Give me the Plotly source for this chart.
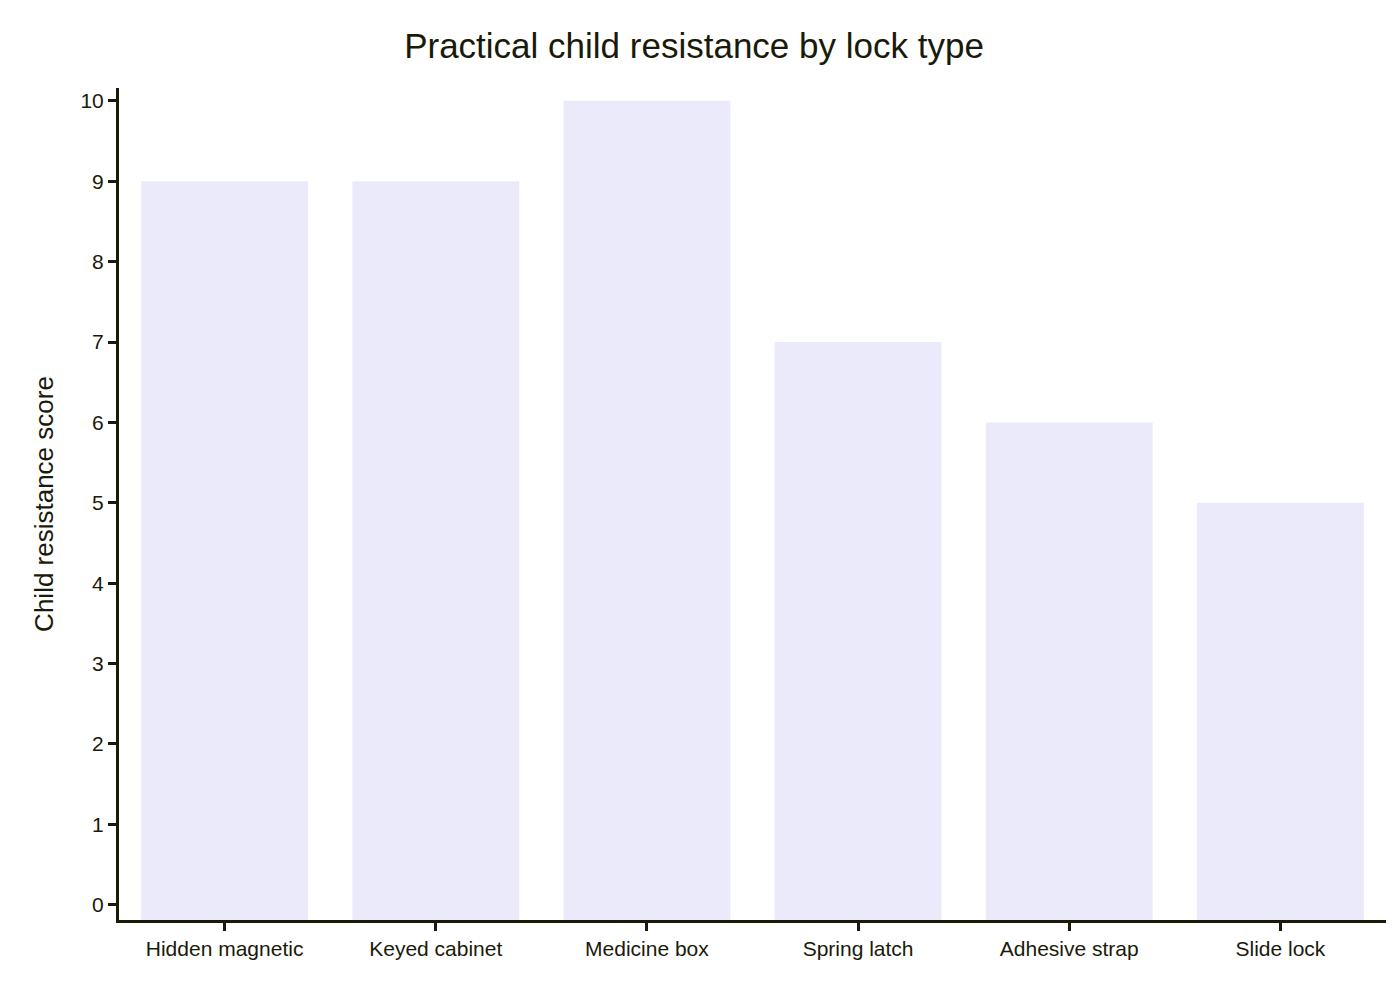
import plotly.graph_objects as go

categories = ["Hidden magnetic", "Keyed cabinet", "Medicine box", "Spring latch", "Adhesive strap", "Slide lock"]
scores = [9, 9, 10, 7, 6, 5]

ymin, ymax = -0.19, 10.16
fig = go.Figure(go.Bar(x=categories, y=[s - ymin for s in scores], base=ymin,
                       marker=dict(color="#ebeafb", line=dict(width=0))))
fig.update_layout(
    width=1400, height=1000, plot_bgcolor="white", paper_bgcolor="white",
    margin=dict(l=111, r=22, t=80, b=88), bargap=0.21,
    font=dict(family="Liberation Sans, Arial", size=21, color="#1a1a0a"),
    title=dict(text="Practical child resistance by lock type", x=0.49, xanchor="center",
               y=0.962, yanchor="middle", font=dict(size=35)),
    showlegend=False,
)
fig.update_xaxes(showline=True, linecolor="#1a1a0a", linewidth=3, ticks="outside",
                 ticklen=8, tickwidth=3, tickcolor="#1a1a0a", showgrid=False)
fig.update_yaxes(range=[ymin, ymax], showline=True, linecolor="#1a1a0a", linewidth=3,
                 ticks="outside", ticklen=8, tickwidth=3, tickcolor="#1a1a0a",
                 showgrid=False, zeroline=False, dtick=1,
                 title=dict(text="Child resistance score", font=dict(size=26), standoff=20))
fig.write_html("out.html")
